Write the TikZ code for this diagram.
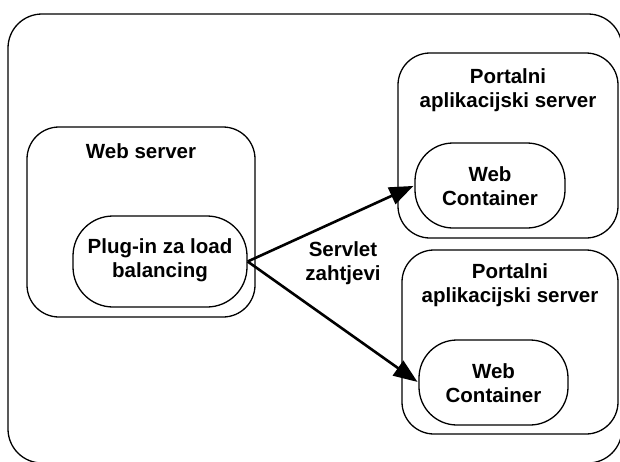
\documentclass[tikz,border=0pt]{standalone}
\usepackage{fontspec}
\setmainfont{Liberation Sans}
\usetikzlibrary{arrows.meta}
\begin{document}
\begin{tikzpicture}[x=1pt,y=-1pt,
  box/.style={draw, line width=1.3pt, rounded corners=#1},
  box/.default=30pt,
  lbl/.style={font=\fontsize{20.5}{24.5}\selectfont\bfseries, align=center, inner sep=0pt},
  arr/.style={line width=2.6pt, -{Triangle[length=24pt,width=18pt]}, shorten >=1pt}]
\useasboundingbox (0,0) rectangle (620,461);
\begin{scope}
\clip (0,0) rectangle (620,461);
\draw[box=34pt] (8,14) rectangle (622,463);
\end{scope}
% Web server
\draw[box=32pt] (27,127) rectangle (255,317);
\node[lbl] (ws) at (141,151) {Web server};
\node[box=40pt, minimum width=174pt, minimum height=91pt, inner sep=0pt] (plug) at (160,261.5) {};
\node[lbl] (plugt) at (160,260) {Plug-in za load\\balancing};
% Portal 1
\draw[box=32pt] (398,53) rectangle (618,238);
\node[lbl] (p1) at (508,90) {Portalni\\aplikacijski server};
\node[box=38pt, minimum width=150pt, minimum height=85pt, inner sep=0pt] (wc1) at (490,185.5) {};
\node[lbl] (wc1t) at (490,186) {Web\\Container};
% Portal 2
\draw[box=32pt] (402,250) rectangle (618,434);
\node[lbl] (p2) at (510,285) {Portalni\\aplikacijski server};
\node[box=38pt, minimum width=149pt, minimum height=85pt, inner sep=0pt] (wc2) at (493.5,382.5) {};
\node[lbl] (wc2t) at (493.5,383) {Web\\Container};
% arrows
\coordinate (s) at (plug.east);
\draw[arr] (s) -- (wc1.west);
\draw[arr] (s) -- (wc2.west);
\node[lbl] (sz) at (343,263) {Servlet\\zahtjevi};
\end{tikzpicture}
\end{document}
